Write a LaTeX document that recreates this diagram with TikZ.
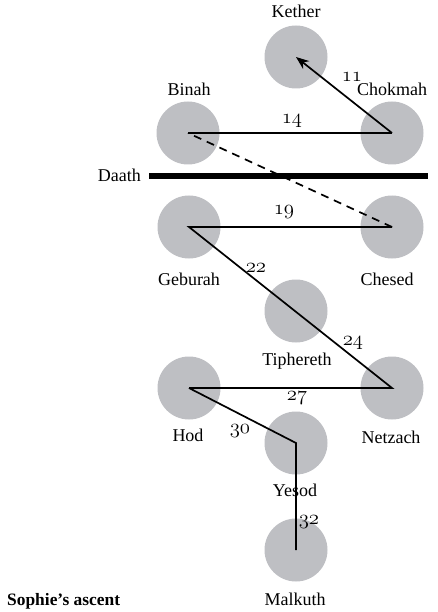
\documentclass[tikz,border=0pt]{standalone}
\usepackage{fontspec}
\setmainfont{Liberation Serif}
\usetikzlibrary{arrows.meta}
\definecolor{sephiragrey}{RGB}{190,191,195}
% old-style figures taken from the Computer Modern math italic font
\newcommand\osfig[1]{{\usefont{OML}{cmm}{m}{it}#1}}
\begin{document}
\begin{tikzpicture}[x=1pt,y=-1pt,
  seph/.style={circle,fill=sephiragrey,minimum size=63pt,inner sep=0pt},
  lbl/.style={font=\fontsize{18}{21}\selectfont,inner sep=0pt,anchor=base},
  pathno/.style={font=\fontsize{20.5}{23}\selectfont,inner sep=0pt},
  route/.style={line width=1.7pt,black},
  hiddenroute/.style={route,dash pattern=on 8pt off 6pt}]
\useasboundingbox (0,0) rectangle (437,612);

% the ten sephiroth
\node[seph] (kether)    at (296,57)  {};
\node[seph] (binah)     at (188,133) {};
\node[seph] (chokmah)   at (392,133) {};
\node[seph] (geburah)   at (189,227) {};
\node[seph] (chesed)    at (392,227) {};
\node[seph] (tiphereth) at (296,311) {};
\node[seph] (hod)       at (189,388) {};
\node[seph] (netzach)   at (392,388) {};
\node[seph] (yesod)     at (296,443) {};
\node[seph] (malkuth)   at (296,550) {};

% the abyss
\coordinate (abyssL) at (149,176.3);
\coordinate (abyssR) at (428,176.3);
\draw[line width=6pt] (abyssL) -- (abyssR);
\node[lbl,anchor=base east] (daath) at (141,182) {Daath};

% names
\node[lbl] (lkether)    at (296,18)  {Kether};
\node[lbl] (lbinah)     at (189,96)  {Binah};
\node[lbl] (lchokmah)   at (392,96)  {Chokmah};
\node[lbl] (lgeburah)   at (189,285) {Geburah};
\node[lbl] (lchesed)    at (387,285) {Chesed};
\node[lbl] (ltiphereth) at (297,365) {Tiphereth};
\node[lbl] (lhod)       at (188,441) {Hod};
\node[lbl] (lnetzach)   at (391,443) {Netzach};
\node[lbl] (lyesod)     at (295,496) {Yesod};
\node[lbl] (lmalkuth)   at (295,605) {Malkuth};
\node[lbl,anchor=base west,font=\fontsize{17.4}{20}\selectfont\bfseries] (title) at (7,605) {Sophie's ascent};

% the ascent
\draw[route] (hod.center) -- (yesod.center) -- (malkuth.center);
\draw[route] (hod.center) -- (netzach.center) -- (geburah.center) -- (chesed.center);
\draw[hiddenroute] (chesed.center) -- (binah.center);
\draw[route] (binah.center) -- (chokmah.center);
\draw[route,-{Stealth[length=13pt,width=10pt]}] (chokmah.center) -- (kether.center);

% path numbers
\node[pathno] (p11) at (352,77)  {\osfig{11}};
\node[pathno] (p14) at (292,121) {\osfig{14}};
\node[pathno] (p19) at (284,212) {\osfig{19}};
\node[pathno] (p22) at (256,268) {\osfig{22}};
\node[pathno] (p24) at (353,343) {\osfig{24}};
\node[pathno] (p27) at (297,398) {\osfig{27}};
\node[pathno] (p30) at (240,431) {\osfig{30}};
\node[pathno] (p32) at (309,522) {\osfig{32}};
\end{tikzpicture}
\end{document}
